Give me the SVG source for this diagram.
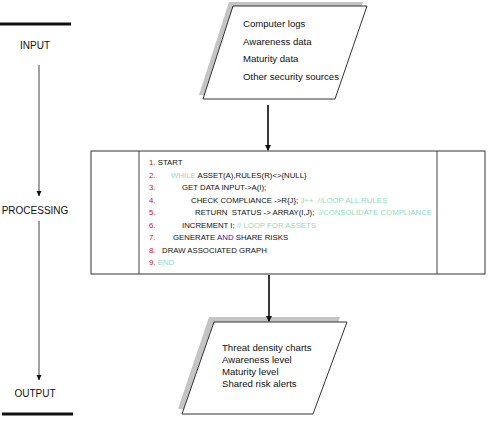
<svg xmlns="http://www.w3.org/2000/svg" width="488" height="421" viewBox="0 0 488 421">
<style>
text{font-family:"Liberation Sans",Arial,sans-serif;fill:#111}
.lbl{font-size:10px;text-anchor:middle}
.io{font-size:9.6px}
.code{font-size:7.8px;white-space:pre}
.n{fill:#d01010}
.g{fill:#8fdcbc}
.b{fill:#1a1aa0}
.shape{fill:#fff;stroke:#333;stroke-width:1}
.shadow{fill:#c4c4c4}
.conn{stroke:#222;stroke-width:1.8;fill:none}
.thin{stroke:#444;stroke-width:1;fill:none}
.bar{stroke:#111;stroke-width:3}
</style>
<defs>
<marker id="ah" markerWidth="6" markerHeight="6" refX="5" refY="3" orient="auto" markerUnits="userSpaceOnUse">
<path d="M0,0 L6,3 L0,6 Z" fill="#111"/>
</marker>
<marker id="ahs" markerWidth="6" markerHeight="6" refX="5" refY="3" orient="auto" markerUnits="userSpaceOnUse">
<path d="M0,0.5 L5.5,3 L0,5.5 Z" fill="#111"/>
</marker>
</defs>
<rect width="488" height="421" fill="#fff"/>

<g id="stages">
<line class="bar" x1="0" y1="24" x2="71" y2="24"/>
<text class="lbl" x="35" y="49">INPUT</text>
<text class="lbl" x="35" y="214">PROCESSING</text>
<text class="lbl" x="35" y="397">OUTPUT</text>
<line class="bar" x1="2" y1="414" x2="73" y2="414"/>
</g>

<g id="input">
<polygon class="shadow" points="229,2 363,2 331,95 199,95"/>
<polygon class="shape" points="233,6 367,6 335,99 203,99"/>
<text class="io" x="243" y="27">Computer logs</text>
<text class="io" x="243" y="45">Awareness data</text>
<text class="io" x="243" y="62">Maturity data</text>
<text class="io" x="243" y="80">Other security sources</text>
</g>

<g id="processing">
<rect class="shape" x="91" y="151" width="394" height="123"/>
<line class="thin" x1="139" y1="151" x2="139" y2="274"/>
<line class="thin" x1="437" y1="151" x2="437" y2="274"/>
<text class="code" x="149" y="165"><tspan class="n">1.</tspan> START</text>
<text class="code" x="149" y="177.5"><tspan class="n">2.</tspan><tspan class="g" x="171">WHILE</tspan> ASSET(A),RULES(R)&lt;&gt;{NULL}</text>
<text class="code" x="149" y="190"><tspan class="n">3.</tspan><tspan x="182">GET DATA INPUT-&gt;A(I);</tspan></text>
<text class="code" x="149" y="202.5"><tspan class="n">4.</tspan><tspan x="191">CHECK COMPLIANCE -&gt;R{J};</tspan><tspan class="g"> J++  //LOOP ALL RULES</tspan></text>
<text class="code" x="149" y="215"><tspan class="n">5.</tspan><tspan x="195">RETURN  STATUS -&gt; ARRAY(I,J);</tspan><tspan class="g">  //CONSOLIDATE COMPLIANCE</tspan></text>
<text class="code" x="149" y="227.5"><tspan class="n">6.</tspan><tspan x="182">INCREMENT I;</tspan><tspan class="g"> // LOOP FOR ASSETS</tspan></text>
<text class="code" x="149" y="240"><tspan class="n">7.</tspan><tspan x="173">GENERATE </tspan><tspan class="b">AND</tspan> SHARE RISKS</text>
<text class="code" x="149" y="252.5"><tspan class="n">8.</tspan><tspan x="162">DRAW ASSOCIATED GRAPH</tspan></text>
<text class="code" x="149" y="265"><tspan class="n">9.</tspan><tspan class="g"> END</tspan></text>
</g>

<g id="output">
<polygon class="shadow" points="209,317 340,317 308,409 178,409"/>
<polygon class="shape" points="214,322 347,322 313,414 182,414"/>
<text class="io" x="222" y="351">Threat density charts</text>
<text class="io" x="222" y="363">Awareness level</text>
<text class="io" x="222" y="375">Maturity level</text>
<text class="io" x="222" y="387">Shared risk alerts</text>
</g>

<g id="connectors">
<line class="conn" x1="268" y1="105" x2="268" y2="150" marker-end="url(#ah)"/>
<line class="conn" x1="269" y1="275" x2="269" y2="321" marker-end="url(#ah)"/>
<line class="thin" x1="39" y1="65" x2="39" y2="196" marker-end="url(#ahs)"/>
<line class="thin" x1="39" y1="221" x2="39" y2="380" marker-end="url(#ahs)"/>
</g>
</svg>
